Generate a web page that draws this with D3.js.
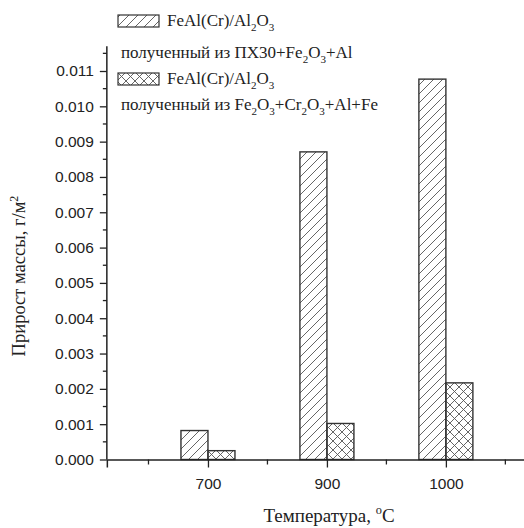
<!DOCTYPE html>
<html>
<head>
	<meta charset="utf-8">
	<title>Прирост массы</title>
	<script src="https://d3js.org/d3.v7.min.js"></script>
	<style type="text/css">
		body{ margin: 0; background: #fff; }
		.tick text{ font-family: "Liberation Sans", Arial, sans-serif; }
		.serif{ font-family: "Liberation Serif", "Times New Roman", serif; }
	</style>
</head>
<body>
<script type="text/javascript">
	// data
	var temps = ["700", "900", "1000"]
	var seriesPX30 = [0.00082, 0.00871, 0.01077]
	var seriesOxides = [0.00025, 0.00102, 0.00217]
	var yTicks = [0, 0.001, 0.002, 0.003, 0.004, 0.005, 0.006, 0.007, 0.008, 0.009, 0.010, 0.011]
	var legendNames = ["FeAl(Cr)/Al_2O_3", "FeAl(Cr)/Al_2O_3"]
	var legendNotes = ["полученный из ПХ30+Fe_2O_3+Al", "полученный из Fe_2O_3+Cr_2O_3+Al+Fe"]

	var W = 524, H = 528
	var svg = d3.select("body").append("svg").attr("width", W).attr("height", H)

	// patterns
	var defs = svg.append("defs")
	var p1 = defs.append("pattern").attr("id", "hatch").attr("patternUnits", "userSpaceOnUse")
		.attr("width", 9).attr("height", 9)
	p1.append("path").attr("d", "M-1,10 L10,-1 M-2,2 L2,-2 M7,11 L11,7")
		.attr("stroke", "#555").attr("stroke-width", 0.9)
	var p2 = defs.append("pattern").attr("id", "cross").attr("patternUnits", "userSpaceOnUse")
		.attr("width", 9).attr("height", 9)
	p2.append("path").attr("d", "M-1,10 L10,-1 M-2,2 L2,-2 M7,11 L11,7 M-1,-1 L10,10 M7,-2 L11,2 M-2,7 L2,11")
		.attr("stroke", "#555").attr("stroke-width", 0.9)

	// scales: categories sit at 1,2,3
	var x = d3.scaleLinear().domain([0.15, 3.85]).range([106.85, 547])
	var y = d3.scaleLinear().domain([0, 0.011]).range([459.5, 71])
	var yTop = 0.0117
	var barW = 27

	// bars
	var g = svg.append("g")
	g.selectAll(".b1").data(seriesPX30).enter().append("rect")
		.attr("x", function(d, i){ return x(i + 1) - barW })
		.attr("y", function(d){ return y(d) })
		.attr("width", barW)
		.attr("height", function(d){ return y(0) - y(d) })
		.attr("fill", "url(#hatch)").attr("stroke", "#333").attr("stroke-width", 1.4)
	g.selectAll(".b2").data(seriesOxides).enter().append("rect")
		.attr("x", function(d, i){ return x(i + 1) })
		.attr("y", function(d){ return y(d) })
		.attr("width", barW)
		.attr("height", function(d){ return y(0) - y(d) })
		.attr("fill", "url(#cross)").attr("stroke", "#333").attr("stroke-width", 1.4)

	// y axis
	var yAxis = d3.axisLeft(y).tickValues(yTicks).tickFormat(d3.format(".3f")).tickSizeOuter(0).tickSize(7).tickPadding(6)
	var ya = svg.append("g").attr("transform", "translate(" + x.range()[0] + ",0)").call(yAxis)
	ya.select(".domain").remove()
	ya.selectAll(".tick line").attr("stroke", "#222").attr("stroke-width", 1.3)
	ya.selectAll(".tick text").attr("font-size", 15.5).attr("fill", "#222")
	var yMinor = d3.range(0.0005, yTop, 0.001)
	ya.selectAll(".minor").data(yMinor).enter().append("line")
		.attr("x1", -4).attr("x2", 0)
		.attr("y1", function(d){ return y(d) }).attr("y2", function(d){ return y(d) })
		.attr("stroke", "#222").attr("stroke-width", 1.3)
	ya.append("line").attr("x1", 0).attr("x2", 0).attr("y1", y(0)).attr("y2", y(yTop))
		.attr("stroke", "#222").attr("stroke-width", 1.5)

	// x axis
	var xAxis = d3.axisBottom(x).tickValues([1, 2, 3]).tickFormat(function(d){ return temps[d - 1] })
		.tickSizeOuter(0).tickSize(8).tickPadding(10)
	var xa = svg.append("g").attr("transform", "translate(0," + y(0) + ")").call(xAxis)
	xa.select(".domain").attr("stroke", "#222").attr("stroke-width", 1.5)
	xa.selectAll(".tick line").attr("stroke", "#222").attr("stroke-width", 1.3)
	xa.selectAll(".tick text").attr("font-size", 15.5).attr("fill", "#222")
	xa.selectAll(".minor").data([0.5, 1.5, 2.5, 3.5]).enter().append("line")
		.attr("x1", function(d){ return x(d) }).attr("x2", function(d){ return x(d) })
		.attr("y1", 0).attr("y2", 5)
		.attr("stroke", "#222").attr("stroke-width", 1.3)

	// text with _sub and ^sup, the shift back rides on the next piece
	function rich(sel, str, size){
		var parts = str.split(/([_^].)/).filter(function(p){ return p != "" })
		var back = 0
		parts.forEach(function(p){
			var t = sel.append("tspan")
			if(p[0] == "_"){
				t.attr("dy", back + size * 0.3).attr("font-size", size * 0.65).text(p[1])
				back = -size * 0.3
			}else if(p[0] == "^"){
				t.attr("dy", back - size * 0.4).attr("font-size", size * 0.65).text(p[1])
				back = size * 0.4
			}else{
				t.attr("dy", back).text(p)
				back = 0
			}
		})
		return sel
	}

	// axis titles
	var xt = svg.append("text").attr("class", "serif").attr("x", 329).attr("y", 522)
		.attr("text-anchor", "middle").attr("font-size", 19).attr("fill", "#222")
	rich(xt, "Температура, ^oC", 19)
	var yt = svg.append("text").attr("class", "serif").attr("transform", "translate(25,276) rotate(-90)")
		.attr("text-anchor", "middle").attr("font-size", 18.5).attr("fill", "#222")
	rich(yt, "Прирост массы, г/м^2", 18.5)

	// legend
	var fills = ["url(#hatch)", "url(#cross)"]
	var legY = [26, 84]
	legendNames.forEach(function(name, i){
		svg.append("rect").attr("x", 118).attr("y", legY[i] - 11).attr("width", 41).attr("height", 12)
			.attr("fill", fills[i]).attr("stroke", "#333").attr("stroke-width", 1.2)
		rich(svg.append("text").attr("class", "serif").attr("x", 167).attr("y", legY[i])
			.attr("font-size", 17).attr("fill", "#222"), name, 17)
		rich(svg.append("text").attr("class", "serif").attr("x", 121).attr("y", legY[i] + 32 - 6 * i)
			.attr("font-size", 17).attr("fill", "#222"), legendNotes[i], 17)
	})
</script>
</body>
</html>
